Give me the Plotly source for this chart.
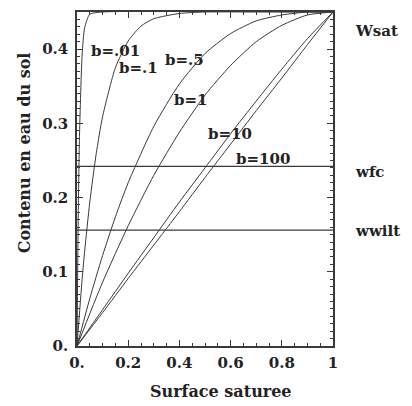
import plotly.graph_objects as go

# ---- data ----
wsat = 0.45
wfc = 0.242
wwilt = 0.156

x_b001 = [0, 0.005, 0.01, 0.02, 0.03, 0.05, 0.1, 1.0]
w_b001 = [0, 0.179, 0.287, 0.392, 0.429, 0.447, 0.45, 0.45]

x_b01 = [0, 0.02, 0.03, 0.05, 0.075, 0.1, 0.15, 0.2, 0.25, 0.3, 0.4, 0.5, 0.7, 1.0]
w_b01 = [0, 0.090, 0.128, 0.194, 0.259, 0.309, 0.375, 0.411, 0.431, 0.441, 0.448, 0.450, 0.450, 0.45]

x_b05 = [0, 0.05, 0.1, 0.15, 0.2, 0.3, 0.4, 0.5, 0.6, 0.7, 0.8, 0.9, 1.0]
w_b05 = [0, 0.064, 0.122, 0.174, 0.220, 0.296, 0.353, 0.394, 0.421, 0.438, 0.446, 0.450, 0.45]

x_b1 = [0, 0.1, 0.2, 0.3, 0.4, 0.5, 0.6, 0.7, 0.8, 0.9, 1.0]
w_b1 = [0, 0.086, 0.162, 0.230, 0.288, 0.338, 0.378, 0.410, 0.432, 0.446, 0.45]

x_b10 = [0, 0.1, 0.2, 0.3, 0.4, 0.5, 0.6, 0.7, 0.8, 0.9, 1.0]
w_b10 = [0, 0.049, 0.098, 0.146, 0.194, 0.240, 0.286, 0.330, 0.373, 0.414, 0.45]

x_b100 = [0, 0.1, 0.2, 0.3, 0.4, 0.5, 0.6, 0.7, 0.8, 0.9, 1.0]
w_b100 = [0, 0.045, 0.091, 0.136, 0.181, 0.227, 0.272, 0.317, 0.361, 0.406, 0.45]

x_ticks = [0, 0.2, 0.4, 0.6, 0.8, 1.0]
x_ticktext = ["0.", "0.2", "0.4", "0.6", "0.8", "1"]
y_ticks = [0, 0.1, 0.2, 0.3, 0.4]
y_ticktext = ["0.", "0.1", "0.2", "0.3", "0.4"]

curve_labels = ["b=.01", "b=.1", "b=.5", "b=1", "b=10", "b=100"]
level_labels = ["Wsat", "wfc", "wwilt"]

FONT = "DejaVu Serif"
LC = "#3a3a3a"

fig = go.Figure()
series = [(x_b001, w_b001), (x_b01, w_b01), (x_b05, w_b05),
          (x_b1, w_b1), (x_b10, w_b10), (x_b100, w_b100)]
for xs, ws in series:
    fig.add_trace(go.Scatter(x=xs, y=ws, mode="lines",
                             line=dict(color=LC, width=1, shape="spline", smoothing=0.6),
                             showlegend=False, hoverinfo="skip"))

for lvl in [wfc, wwilt]:
    fig.add_trace(go.Scatter(x=[0, 1], y=[lvl, lvl], mode="lines",
                             line=dict(color=LC, width=1.2),
                             showlegend=False, hoverinfo="skip"))

tfont = dict(family=FONT, size=15, color="#222", weight="bold")

# curve labels (positions in data coords)
label_pos = [(0.045, 0.397), (0.155, 0.374), (0.335, 0.385),
             (0.37, 0.331), (0.505, 0.286), (0.613, 0.252)]
for txt, (lx, ly) in zip(curve_labels, label_pos):
    fig.add_annotation(x=lx, y=ly, text=txt, showarrow=False, xanchor="left",
                       yanchor="middle", font=tfont)

# level labels on the right
for txt, lv in zip(level_labels, [0.424, 0.234, 0.155]):
    fig.add_annotation(x=1.08, y=lv, xref="paper", yref="y", text=txt, showarrow=False,
                       xanchor="left", yanchor="middle", font=tfont)

# axis titles
fig.add_annotation(x=0.5625, y=-0.137, xref="paper", yref="paper", text="Surface saturee",
                   showarrow=False, xanchor="center", yanchor="middle",
                   font=dict(family=FONT, size=16, color="#222", weight="bold"))
fig.add_annotation(x=-0.207, y=0.577, xref="paper", yref="paper", text="Contenu en eau du sol",
                   showarrow=False, textangle=-90, xanchor="center", yanchor="middle",
                   font=dict(family=FONT, size=16, color="#222", weight="bold"))

axis_common = dict(showgrid=False, zeroline=False, showline=True, linecolor=LC,
                   linewidth=1.5, mirror="ticks", ticks="inside", ticklen=6,
                   tickcolor=LC, tickwidth=1, tickfont=tfont)

fig.update_xaxes(range=[0, 1], tickvals=x_ticks, ticktext=x_ticktext, ticklabelstandoff=2,
                 minor=dict(dtick=0.05, ticks="inside", ticklen=3, tickcolor=LC, showgrid=False),
                 **axis_common)
fig.update_yaxes(range=[0, 0.45], tickvals=y_ticks, ticktext=y_ticktext, ticklabelstandoff=4,
                 minor=dict(dtick=0.01, ticks="inside", ticklen=3, tickcolor=LC, showgrid=False),
                 **axis_common)

# page body has an 8px default margin; margins compensate so the plot area
# sits where it does in the reference
fig.update_layout(width=412, height=406, autosize=False,
                  margin=dict(l=69, r=87, t=2, b=68),
                  paper_bgcolor="white", plot_bgcolor="white",
                  showlegend=False)

fig.write_html("out.html")
